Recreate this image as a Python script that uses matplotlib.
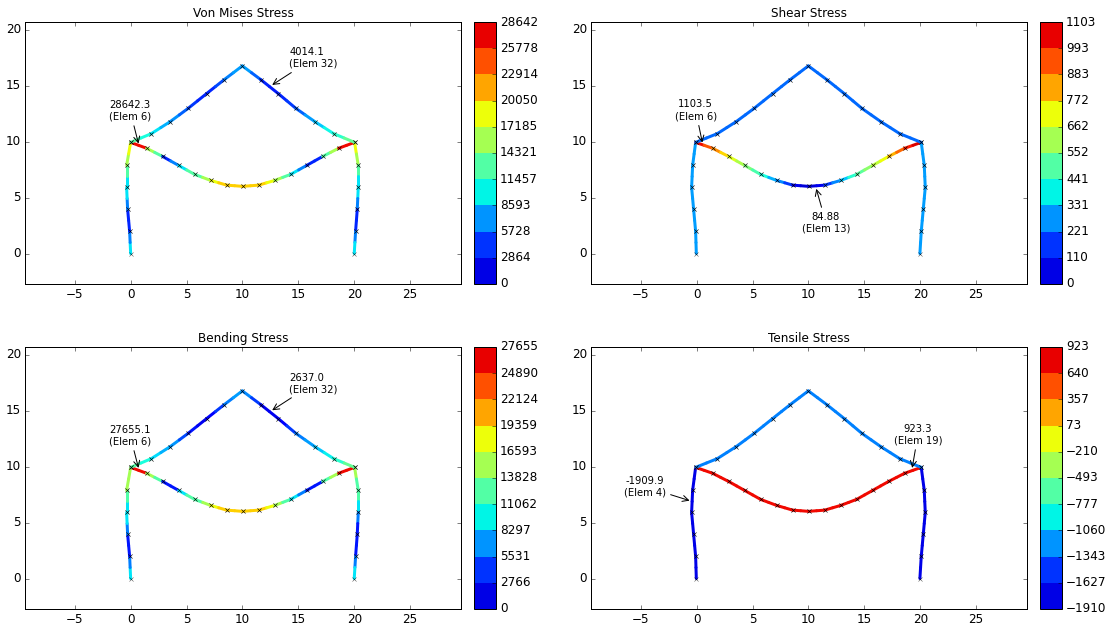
import matplotlib
matplotlib.use('Agg')
import matplotlib.pyplot as plt
from matplotlib.collections import LineCollection
from matplotlib.colors import BoundaryNorm, ListedColormap, Normalize
from matplotlib.cm import ScalarMappable
import numpy as np

# node coordinates of the deformed frame
col_y = [0, 1.97, 3.94, 5.90, 7.87, 9.93]
left_x_a = [0, -0.09, -0.27, -0.36, -0.36, 0]
right_x_a = [20.0, 20.12, 20.27, 20.36, 20.36, 20.03]
left_x_b = [-0.03, -0.09, -0.27, -0.45, -0.36, -0.09]
right_x_b = [19.97, 20.09, 20.27, 20.45, 20.36, 20.09]
chord_x = [1.43, 2.86, 4.29, 5.72, 7.16, 8.59, 10.02, 11.45, 12.88, 14.31, 15.74, 17.17, 18.6]
chord_y = [9.4, 8.67, 7.87, 7.07, 6.53, 6.11, 6.0, 6.11, 6.53, 7.07, 7.87, 8.67, 9.4]
roof_x = [1.85, 3.55, 5.16, 6.8, 8.38, 9.99, 11.63, 13.2, 14.76, 16.46, 18.16]
roof_y = [10.71, 11.79, 12.98, 14.29, 15.54, 16.76, 15.54, 14.29, 12.98, 11.79, 10.71]

# stress on each half element: left column, chord, right column, roof
von_mises = [10000, 7200, 4600, 4600, 7200, 10000, 10000, 12900, 15800, 18300,
             25800, 25800, 15800, 12900, 4600, 7200, 10000, 12900, 12900, 15800,
             18300, 19800, 19800, 19800, 19800, 19800, 19800, 18300, 15800, 12900,
             10000, 7200, 4600, 4600, 12900, 15800, 25800, 25800,
             18300, 15800, 12900, 10000, 10000, 7200, 4600, 4600, 7200, 10000,
             12900, 10900, 10000, 8600, 7700, 6300, 5200, 4600, 4600, 5700, 7200, 8000,
             8000, 6300, 4600, 4300, 4600, 5200, 6300, 8000, 9200, 10600, 11500, 13500]
shear = [310, 310, 310, 310, 310, 310, 310, 310, 310, 310,
         993, 904, 838, 750, 684, 618, 552, 485, 419, 331,
         287, 199, 110, 88, 88, 110, 199, 287, 353, 441,
         507, 574, 640, 706, 794, 882, 971, 1015,
         310, 310, 310, 310, 310, 310, 310, 310, 310, 310,
         250, 250, 250, 250, 250, 250, 250, 250, 250, 250, 250, 250,
         250, 250, 250, 250, 250, 250, 250, 250, 250, 250, 250, 250]
bending = [9700, 6900, 4100, 4100, 6900, 9700, 9700, 12400, 15200, 15200,
           24900, 24900, 15200, 12400, 4100, 4100, 9700, 12400, 12400, 15200,
           17700, 19100, 19100, 19100, 19100, 19100, 19100, 17700, 15200, 12400,
           9700, 6900, 4100, 4100, 12400, 15200, 24900, 24900,
           15200, 12400, 12400, 9700, 6900, 4100, 4100, 4100, 6900, 9700,
           12400, 10500, 9400, 8300, 7500, 5500, 3900, 2800, 3300, 5000, 6900, 7700,
           7200, 5000, 2800, 2800, 3300, 5000, 6900, 7700, 8800, 10000, 11100, 13000]
tensile = [-1650] * 10 + [640] * 28 + [-1650] * 10 + [-1200] * 24

von_mises_ticks = [0, 2864, 5728, 8593, 11457, 14321, 17185, 20050, 22914, 25778, 28642]
shear_ticks = [0, 110, 221, 331, 441, 552, 662, 772, 883, 993, 1103]
bending_ticks = [0, 2766, 5531, 8297, 11062, 13828, 16593, 19359, 22124, 24890, 27655]
tensile_ticks = [-1910, -1627, -1343, -1060, -777, -493, -210, 73, 357, 640, 923]

band_colors = ['#0000e6', '#0033ff', '#0094ff', '#00f5e6', '#52ffa5',
               '#a5ff52', '#edff0a', '#ffa500', '#ff5000', '#e80000']

# panels: title, stress, ticks, nodes, axes pixels, annotations
panels = [
    ('Von Mises Stress', von_mises, von_mises_ticks, left_x_a, right_x_a, 25, 22,
     [('28642.3\n(Elem 6)', (0.7, 9.82), (-0.05, 12.77), 'center'),
      ('4014.1\n(Elem 32)', (12.66, 15.06), (14.2, 17.45), 'left')]),
    ('Shear Stress', shear, shear_ticks, left_x_b, right_x_b, 591, 22,
     [('1103.5\n(Elem 6)', (0.51, 9.91), (-0.09, 12.8), 'center'),
      ('84.88\n(Elem 13)', (10.7, 5.78), (11.56, 2.77), 'center')]),
    ('Bending Stress', bending, bending_ticks, left_x_a, right_x_a, 25, 347,
     [('27655.1\n(Elem 6)', (0.7, 9.88), (-0.05, 12.78), 'center'),
      ('2637.0\n(Elem 32)', (12.66, 15.03), (14.2, 17.43), 'left')]),
    ('Tensile Stress', tensile, tensile_ticks, left_x_b, right_x_b, 591, 347,
     [('-1909.9\n(Elem 4)', (-0.63, 6.96), (-4.6, 8.2), 'center'),
      ('923.3\n(Elem 19)', (19.28, 9.88), (19.8, 12.87), 'center')]),
]


def frame_elements(left_x, right_x):
    """Lista os elementos na ordem da numeração, coluna, banzo, coluna, cobertura"""
    left = list(zip(left_x, col_y))
    right = list(zip(right_x, col_y))
    chord = [left[-1]] + list(zip(chord_x, chord_y)) + [right[-1]]
    roof = [left[-1]] + list(zip(roof_x, roof_y)) + [right[-1]]
    chains = [left, chord, right[::-1], roof]
    elements = []
    for chain in chains:
        elements += list(zip(chain[:-1], chain[1:]))
    return elements


W, H = 1112, 632
plt.style.use('classic')
plt.rcParams['figure.facecolor'] = 'white'
plt.rcParams['savefig.facecolor'] = 'white'
plt.rcParams['font.size'] = 12

fig = plt.figure(figsize=(W / 72, H / 72), dpi=72)
band_cmap = ListedColormap(band_colors)

for title, stress, ticks, left_x, right_x, px, py, notes in panels:
    ax = fig.add_axes([px / W, 1 - (py + 262) / H, 436 / W, 262 / H])
    cax = fig.add_axes([(px + 449) / W, 1 - (py + 262) / H, 22 / W, 262 / H])

    elements = frame_elements(left_x, right_x)
    segments = []
    for a, b in elements:
        mid = ((a[0] + b[0]) / 2, (a[1] + b[1]) / 2)
        segments.append([a, mid])
        segments.append([mid, b])

    # linhas em jet contínuo, barra de cores em faixas
    lines = LineCollection(segments, cmap='jet', norm=Normalize(ticks[0], ticks[-1]),
                           linewidths=3, capstyle='round')
    lines.set_array(np.array(stress))
    ax.add_collection(lines)

    nodes = np.array([p for e in elements for p in e])
    ax.plot(nodes[:, 0], nodes[:, 1], 'x', color='k', markersize=4, markeredgewidth=0.5, alpha=0.75)

    ax.set_xlim(-9.45, 29.55)
    ax.set_ylim(-2.72, 20.68)
    ax.set_xticks([-5, 0, 5, 10, 15, 20, 25])
    ax.set_yticks([0, 5, 10, 15, 20])
    ax.tick_params(labelsize=12)
    ax.set_title(title, fontsize=12, pad=5)

    for text, tip, pos, align in notes:
        ax.annotate(text, xy=tip, xytext=pos, fontsize=10, ha='center' if align == 'center' else 'left',
                    va='center', multialignment=align,
                    arrowprops=dict(arrowstyle='->', color='k', mutation_scale=15, lw=1, shrinkB=0))

    bands = ScalarMappable(norm=BoundaryNorm(ticks, band_cmap.N), cmap=band_cmap)
    cb = fig.colorbar(bands, cax=cax, ticks=ticks, spacing='proportional')
    cb.ax.tick_params(labelsize=12, direction='in', length=4, pad=4)
    cb.minorticks_off()

fig.savefig('out.png', dpi=72)
